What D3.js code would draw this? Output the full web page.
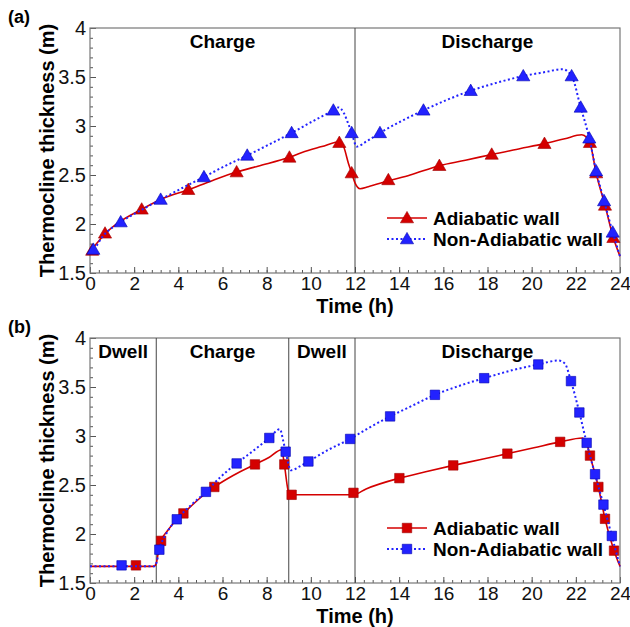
<!DOCTYPE html>
<html>
<head>
<meta charset="utf-8">
<script src="https://cdn.jsdelivr.net/npm/d3@7"></script>
<style>
  body { margin: 0; background: #fff; }
  text { font-family: "Liberation Sans", Arial, sans-serif; }
</style>
</head>
<body>
<div id="chart"></div>
<script>
// Thermocline thickness vs time, two cases (a) and (b)

// ---- data ----
// (a) curves: [time h, thickness m]
var aAdiabaticCurve = [[0,1.72],[0.3,1.80],[0.68,1.90],[1.2,2.00],[2.34,2.15],[3.3,2.26],[4.45,2.35],[5.5,2.44],[6.64,2.53],[7.6,2.59],[9.03,2.68],[9.6,2.73],[10.5,2.79],[11.3,2.84],[11.5,2.78],[11.7,2.62],[11.85,2.52],[12.0,2.42],[12.23,2.36],[12.6,2.38],[13.51,2.44],[14.5,2.50],[15.82,2.595],[17.0,2.65],[18.19,2.71],[19.5,2.77],[20.58,2.82],[21.5,2.87],[22.27,2.91],[22.5,2.88],[22.64,2.83],[22.92,2.52],[23.32,2.19],[23.70,1.86],[24,1.67]];
var aNonAdiabaticCurve = [[0,1.72],[0.15,1.74],[0.6,1.88],[1.39,2.02],[2.3,2.14],[3.2,2.25],[4.2,2.37],[5.16,2.48],[6.1,2.59],[7.12,2.70],[8.1,2.81],[9.13,2.93],[10.1,3.05],[11.02,3.16],[11.25,3.19],[11.5,3.13],[11.7,3.02],[11.85,2.93],[12.08,2.79],[12.5,2.84],[13.13,2.93],[14.1,3.05],[15.1,3.16],[16.2,3.27],[17.24,3.36],[18.4,3.44],[19.62,3.51],[20.6,3.55],[21.4,3.58],[21.81,3.51],[22.22,3.19],[22.61,2.875],[22.92,2.54],[23.28,2.235],[23.67,1.915],[24,1.67]];
var aAdiabaticMarks = [[0.1,1.73],[0.68,1.905],[2.34,2.15],[4.45,2.35],[6.64,2.53],[9.03,2.68],[11.29,2.83],[11.85,2.52],[13.51,2.45],[15.82,2.595],[18.19,2.71],[20.58,2.82],[22.64,2.83],[22.92,2.52],[23.32,2.19],[23.70,1.86]];
var aNonAdiabaticMarks = [[0.15,1.74],[1.39,2.02],[3.2,2.25],[5.16,2.48],[7.12,2.70],[9.13,2.93],[11.02,3.16],[11.85,2.93],[13.13,2.93],[15.1,3.16],[17.24,3.36],[19.62,3.51],[21.81,3.51],[22.22,3.19],[22.61,2.875],[22.92,2.54],[23.28,2.235],[23.67,1.915]];

// (b) curves
var bAdiabaticCurve = [[0,1.67],[2.9,1.67],[3.0,1.70],[3.1,1.82],[3.22,1.93],[3.5,2.03],[3.9,2.14],[4.23,2.21],[5.0,2.37],[5.63,2.48],[6.5,2.60],[7.47,2.71],[8.1,2.78],[8.68,2.86],[8.80,2.71],[9.0,2.42],[9.13,2.40],[11.93,2.40],[12.5,2.46],[14.01,2.57],[15.2,2.635],[16.45,2.70],[17.7,2.76],[18.9,2.82],[20.1,2.88],[21.29,2.94],[22.3,2.98],[22.5,2.92],[22.64,2.80],[23.02,2.48],[23.32,2.155],[23.73,1.83],[24,1.67]];
var bNonAdiabaticCurve = [[0,1.67],[2.9,1.67],[3.0,1.70],[3.14,1.84],[3.5,2.02],[3.93,2.15],[4.6,2.30],[5.25,2.43],[5.9,2.58],[6.64,2.72],[7.4,2.85],[8.12,2.98],[8.6,3.07],[8.75,2.95],[8.86,2.84],[9.1,2.65],[9.5,2.69],[9.89,2.74],[10.8,2.86],[11.78,2.97],[12.6,3.08],[13.59,3.20],[14.6,3.31],[15.62,3.42],[16.7,3.51],[17.85,3.59],[19.1,3.67],[20.30,3.73],[21.21,3.77],[21.5,3.74],[21.78,3.56],[22.16,3.24],[22.49,2.93],[22.87,2.61],[23.25,2.30],[23.63,1.98],[24,1.67]];
var bAdiabaticMarks = [[2.08,1.68],[3.22,1.93],[4.23,2.21],[5.63,2.48],[7.47,2.71],[8.80,2.71],[9.13,2.40],[11.93,2.42],[14.01,2.57],[16.45,2.70],[18.9,2.82],[21.29,2.94],[22.64,2.80],[23.02,2.48],[23.32,2.155],[23.73,1.83]];
var bNonAdiabaticMarks = [[1.43,1.68],[3.14,1.84],[3.93,2.15],[5.25,2.43],[6.64,2.72],[8.12,2.98],[8.86,2.84],[9.89,2.74],[11.78,2.97],[13.59,3.20],[15.62,3.42],[17.85,3.59],[20.30,3.73],[21.78,3.56],[22.16,3.24],[22.49,2.93],[22.87,2.61],[23.25,2.30],[23.63,1.98]];

// phases [start, end, label]
var aPhases = [[0, 12, "Charge"], [12, 24, "Discharge"]];
var bPhases = [[0, 3, "Dwell"], [3, 9, "Charge"], [9, 12, "Dwell"], [12, 24, "Discharge"]];

var seriesNames = ["Adiabatic wall", "Non-Adiabatic wall"];
var xTicks = [0, 2, 4, 6, 8, 10, 12, 14, 16, 18, 20, 22, 24];
var yTicks = [1.5, 2, 2.5, 3, 3.5, 4];

var red = "#d40000", blue = "#2222ff";

var svg = d3.select("#chart").append("svg")
  .attr("width", 630)
  .attr("height", 627);

var left = 90, right = 620, plotH = 245;

var x = d3.scaleLinear().domain([0, 24]).range([left, right]);

function drawPanel(top, tag, phases, curves, marks, shape) {
  var y = d3.scaleLinear().domain([1.5, 4]).range([top + plotH, top]);
  var g = svg.append("g");

  // minor ticks (inward)
  var xMinor = d3.range(0, 24.001, 0.4);
  var yMinor = d3.range(1.5, 4.001, 0.1);
  g.append("g")
    .attr("transform", `translate(0, ${top + plotH})`)
    .call(d3.axisTop(x).tickValues(xMinor).tickSize(3).tickFormat(""))
    .call(a => a.select(".domain").remove())
    .call(a => a.selectAll("line").attr("stroke", "#555"));
  g.append("g")
    .attr("transform", `translate(${left}, 0)`)
    .call(d3.axisRight(y).tickValues(yMinor).tickSize(3).tickFormat(""))
    .call(a => a.select(".domain").remove())
    .call(a => a.selectAll("line").attr("stroke", "#555"));

  // major ticks + labels
  var xAx = g.append("g")
    .attr("transform", `translate(0, ${top + plotH})`)
    .call(d3.axisBottom(x).tickValues(xTicks).tickSizeInner(-6).tickSizeOuter(0).tickPadding(3))
  xAx.select(".domain").remove();
  xAx.selectAll("line").attr("stroke", "#555");
  xAx.selectAll("text").attr("font-size", 19).attr("fill", "#111")
    .attr("font-family", "Liberation Sans, Arial, sans-serif");

  var yAx = g.append("g")
    .attr("transform", `translate(${left}, 0)`)
    .call(d3.axisLeft(y).tickValues(yTicks).tickFormat(d3.format("")).tickSizeInner(-6).tickSizeOuter(0).tickPadding(4))
  yAx.select(".domain").remove();
  yAx.selectAll("line").attr("stroke", "#555");
  yAx.selectAll("text").attr("font-size", 20).attr("fill", "#111")
    .attr("font-family", "Liberation Sans, Arial, sans-serif");

  // frame
  g.append("rect")
    .attr("x", left).attr("y", top)
    .attr("width", right - left).attr("height", plotH)
    .attr("fill", "none").attr("stroke", "#777").attr("stroke-width", 1.2);

  // phase dividers and names
  phases.forEach(function(p, i) {
    if (i > 0) {
      g.append("line")
        .attr("x1", x(p[0])).attr("x2", x(p[0]))
        .attr("y1", top).attr("y2", top + plotH)
        .attr("stroke", "#444").attr("stroke-width", 1);
    }
    g.append("text")
      .attr("x", x((p[0] + p[1]) / 2))
      .attr("y", top + 20)
      .attr("text-anchor", "middle")
      .attr("font-size", 19).attr("font-weight", "bold")
      .text(p[2]);
  });

  var line = d3.line()
    .x(d => x(d[0]))
    .y(d => y(d[1]))
    .curve(d3.curveMonotoneX);

  var sym = d3.symbol().type(shape).size(shape === d3.symbolSquare ? 90 : 75);

  // adiabatic (red, solid)
  g.append("path").datum(curves[0])
    .attr("d", line).attr("fill", "none")
    .attr("stroke", red).attr("stroke-width", 1.6);
  g.selectAll(".m0").data(marks[0]).enter().append("path")
    .attr("class", "m0")
    .attr("transform", d => `translate(${x(d[0])}, ${y(d[1]) + (shape === d3.symbolTriangle ? 1 : 0)})`)
    .attr("d", sym)
    .attr("fill", red).attr("stroke", "#a00000").attr("stroke-width", 0.6);

  // non-adiabatic (blue, dotted)
  g.append("path").datum(curves[1])
    .attr("d", line).attr("fill", "none")
    .attr("stroke", blue).attr("stroke-width", 2)
    .attr("stroke-dasharray", "2,2.5");
  g.selectAll(".m1").data(marks[1]).enter().append("path")
    .attr("class", "m1")
    .attr("transform", d => `translate(${x(d[0])}, ${y(d[1]) + (shape === d3.symbolTriangle ? 1 : 0)})`)
    .attr("d", sym)
    .attr("fill", blue).attr("stroke", "#0000b0").attr("stroke-width", 0.6);

  // axis titles
  g.append("text")
    .attr("transform", `translate(54, ${top + plotH / 2}) rotate(-90)`)
    .attr("text-anchor", "middle")
    .attr("font-size", 20).attr("font-weight", "bold")
    .text("Thermocline thickness (m)");
  g.append("text")
    .attr("x", x(12)).attr("y", top + plotH + 40)
    .attr("text-anchor", "middle")
    .attr("font-size", 20).attr("font-weight", "bold")
    .text("Time (h)");

  // panel tag
  g.append("text")
    .attr("x", 8).attr("y", top - 5)
    .attr("font-size", 18).attr("font-weight", "bold")
    .text(tag);

  // legend
  var legTop = top + plotH - 55;
  seriesNames.forEach(function(name, i) {
    var ly = legTop + i * 21;
    var lg = g.append("g");
    lg.append("line")
      .attr("x1", 387).attr("x2", 427).attr("y1", ly).attr("y2", ly)
      .attr("stroke", i === 0 ? red : blue)
      .attr("stroke-width", i === 0 ? 1.6 : 2)
      .attr("stroke-dasharray", i === 0 ? null : "2,2.5");
    lg.append("path")
      .attr("transform", `translate(407, ${ly + (shape === d3.symbolTriangle ? 1 : 0)})`)
      .attr("d", sym)
      .attr("fill", i === 0 ? red : blue)
      .attr("stroke", i === 0 ? "#a00000" : "#0000b0").attr("stroke-width", 0.6);
    lg.append("text")
      .attr("x", 433).attr("y", ly + 7)
      .attr("font-size", 19).attr("font-weight", "bold")
      .text(name);
  });
}

drawPanel(28, "(a)", aPhases, [aAdiabaticCurve, aNonAdiabaticCurve], [aAdiabaticMarks, aNonAdiabaticMarks], d3.symbolTriangle);
drawPanel(338, "(b)", bPhases, [bAdiabaticCurve, bNonAdiabaticCurve], [bAdiabaticMarks, bNonAdiabaticMarks], d3.symbolSquare);
</script>
</body>
</html>
